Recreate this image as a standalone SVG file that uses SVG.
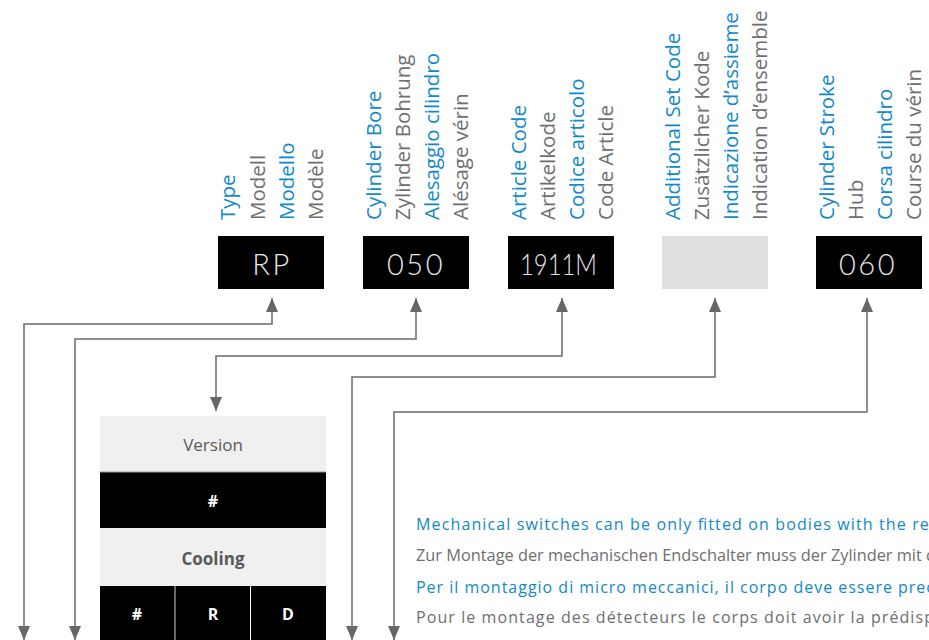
<svg xmlns="http://www.w3.org/2000/svg" width="929" height="640" viewBox="0 0 929 640">
<style>
  text { font-family: "Open Sans", "Noto Sans", "Liberation Sans", sans-serif; }
  .lb { font-size: 20.5px; fill: #1089c9; }
  .lg { font-size: 20.5px; fill: #6e6e6e; }
  .code { font-family: "Lato", "Open Sans", sans-serif; font-size: 29px; font-weight: 300; fill: #e6e6e6; text-anchor: middle; letter-spacing: 2.5px; }
  .conn { fill: none; stroke: #6b6b6b; stroke-width: 1.5; }
  .th { font-size: 17px; fill: #5a5a5a; text-anchor: middle; }
  .tc { font-size: 16px; font-weight: bold; fill: #ffffff; text-anchor: middle; }
  .nb { font-size: 16px; fill: #1089c9; }
  .ng { font-size: 16px; fill: #6e6e6e; }
</style>
<defs>
  <marker id="arr" viewBox="0 0 14 12" refX="14" refY="6" markerWidth="14" markerHeight="12" markerUnits="userSpaceOnUse" orient="auto-start-reverse">
    <path d="M0,0 L14,6 L0,12 z" fill="#666666"/>
  </marker>
</defs>

<g id="label-type">
  <text class="lb" transform="translate(235,220) rotate(-90)">Type</text>
  <text class="lg" transform="translate(264.5,220) rotate(-90)">Modell</text>
  <text class="lb" transform="translate(294,220) rotate(-90)">Modello</text>
  <text class="lg" transform="translate(323,220) rotate(-90)">Modèle</text>
</g>
<g id="label-bore">
  <text class="lb" transform="translate(381,220) rotate(-90)">Cylinder Bore</text>
  <text class="lg" transform="translate(410,220) rotate(-90)">Zylinder Bohrung</text>
  <text class="lb" transform="translate(439,220) rotate(-90)">Alesaggio cilindro</text>
  <text class="lg" transform="translate(468,220) rotate(-90)">Alésage vérin</text>
</g>
<g id="label-article">
  <text class="lb" transform="translate(526,220) rotate(-90)">Article Code</text>
  <text class="lg" transform="translate(555,220) rotate(-90)">Artikelkode</text>
  <text class="lb" transform="translate(584,220) rotate(-90)">Codice articolo</text>
  <text class="lg" transform="translate(613,220) rotate(-90)">Code Article</text>
</g>
<g id="label-set">
  <text class="lb" transform="translate(680,220) rotate(-90)">Additional Set Code</text>
  <text class="lg" transform="translate(709,220) rotate(-90)">Zusätzlicher Kode</text>
  <text class="lb" transform="translate(738,220) rotate(-90)">Indicazione d’assieme</text>
  <text class="lg" transform="translate(767,220) rotate(-90)">Indication d’ensemble</text>
</g>
<g id="label-stroke">
  <text class="lb" transform="translate(834,220) rotate(-90)">Cylinder Stroke</text>
  <text class="lg" transform="translate(863,220) rotate(-90)">Hub</text>
  <text class="lb" transform="translate(892,220) rotate(-90)">Corsa cilindro</text>
  <text class="lg" transform="translate(921,220) rotate(-90)">Course du vérin</text>
</g>

<g id="box-rp">
  <rect x="218" y="236" width="106" height="53" fill="#000"/>
  <text class="code" x="272" y="275">RP</text>
</g>
<g id="box-050">
  <rect x="363" y="236" width="106" height="53" fill="#000"/>
  <text class="code" x="416" y="275">050</text>
</g>
<g id="box-1911m">
  <rect x="508" y="236" width="106" height="53" fill="#000"/>
  <text class="code" x="520" y="275" style="text-anchor:start;letter-spacing:0" textLength="77" lengthAdjust="spacingAndGlyphs">1911M</text>
</g>
<g id="box-set">
  <rect x="662" y="236" width="106" height="53" fill="#e0e0e0"/>
</g>
<g id="box-060">
  <rect x="816" y="236" width="106" height="53" fill="#000"/>
  <text class="code" x="868" y="275">060</text>
</g>

<g id="connectors">
  <path class="conn" d="M272,298 V324 H24 V640" marker-start="url(#arr)" marker-end="url(#arr)"/>
  <path class="conn" d="M416,298 V339 H75 V640" marker-start="url(#arr)" marker-end="url(#arr)"/>
  <path class="conn" d="M562,298 V356 H216 V411" marker-start="url(#arr)" marker-end="url(#arr)"/>
  <path class="conn" d="M715,298 V377 H352 V640" marker-start="url(#arr)" marker-end="url(#arr)"/>
  <path class="conn" d="M867,298 V412 H394 V640" marker-start="url(#arr)" marker-end="url(#arr)"/>
</g>

<g id="table-version">
  <rect x="100" y="416" width="226" height="56" fill="#f0f0f0"/>
  <text class="th" x="213" y="451">Version</text>
  <rect x="100" y="472" width="226" height="56" fill="#000"/>
  <line x1="100" y1="472" x2="326" y2="472" stroke="#9a9a9a" stroke-width="1"/>
  <text class="tc" x="213" y="507">#</text>
</g>
<g id="table-cooling">
  <rect x="100" y="528" width="226" height="58" fill="#f0f0f0"/>
  <text class="th" x="213" y="565" font-weight="bold">Cooling</text>
  <rect x="100" y="586" width="226" height="54" fill="#000"/>
  <line x1="175" y1="586" x2="175" y2="640" stroke="#d0d0d0" stroke-width="1"/>
  <line x1="250.5" y1="586" x2="250.5" y2="640" stroke="#ffffff" stroke-width="1"/>
  <text class="tc" x="137" y="620">#</text>
  <text class="tc" x="213" y="620">R</text>
  <text class="tc" x="288" y="620">D</text>
</g>

<g id="note">
  <text class="nb" x="416" y="530" textLength="518" lengthAdjust="spacing">Mechanical switches can be only fitted on bodies with the rel</text>
  <text class="ng" x="416" y="561" font-size="14.5" textLength="520" lengthAdjust="spacingAndGlyphs">Zur Montage der mechanischen Endschalter muss der Zylinder mit d</text>
  <text class="nb" x="416" y="593" textLength="518" lengthAdjust="spacing">Per il montaggio di micro meccanici, il corpo deve essere prec</text>
  <text class="ng" x="416" y="623" textLength="518" lengthAdjust="spacing">Pour le montage des détecteurs le corps doit avoir la prédisp</text>
</g>
</svg>
